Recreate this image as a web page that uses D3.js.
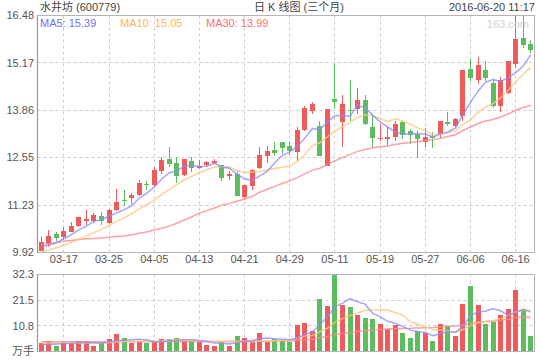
<!DOCTYPE html>
<html><head><meta charset="utf-8">
<script src="https://cdn.jsdelivr.net/npm/d3@7/dist/d3.min.js"></script>
<style>
body{margin:0;background:#fff}
svg{display:block}
text{font-family:"Liberation Sans",Arial,"Noto Sans CJK SC",sans-serif;font-size:11px}
</style>
</head><body>
<svg id="chart" width="540" height="360"></svg>
<script>
// ---------- data ----------
const dates = ["03-14","03-15","03-16","03-17","03-18","03-21","03-22","03-23","03-24","03-25",
"03-28","03-29","03-30","03-31","04-01","04-05","04-06","04-07","04-08","04-11",
"04-12","04-13","04-14","04-15","04-18","04-19","04-20","04-21","04-22","04-25",
"04-26","04-27","04-28","04-29","05-03","05-04","05-05","05-06","05-10","05-11",
"05-12","05-13","05-16","05-17","05-18","05-19","05-20","05-23","05-24","05-25",
"05-26","05-27","05-30","05-31","06-01","06-02","06-03","06-06","06-07","06-08",
"06-13","06-14","06-15","06-16","06-17","06-20"];
const open  = [9.97,10.15,10.44,10.34,10.50,10.66,10.78,10.80,10.93,10.73,
11.09,11.37,11.44,11.50,11.82,11.79,12.17,12.50,12.39,12.06,
12.45,12.26,12.34,12.39,12.33,12.03,12.08,11.47,11.75,12.26,
12.59,12.75,12.97,12.88,12.71,13.32,13.83,13.41,12.31,14.18,
13.53,13.87,13.90,14.15,13.38,13.08,13.06,13.13,13.52,13.27,
13.20,12.97,13.14,13.19,13.52,13.42,13.69,15.01,14.69,14.96,
14.60,13.97,14.34,15.14,15.86,15.70];
const high  = [10.34,10.55,10.50,10.62,10.77,10.90,11.11,11.02,11.05,11.13,
11.69,11.64,11.56,11.92,11.91,12.29,12.55,12.84,12.55,12.52,
12.55,12.47,12.45,12.52,12.33,12.18,12.19,11.80,12.24,12.84,
12.87,12.97,12.97,13.00,13.39,13.97,14.08,13.57,13.88,15.17,
14.29,14.69,14.46,14.29,13.74,13.48,13.39,13.56,13.56,13.35,
13.29,13.37,13.25,13.57,13.80,13.65,14.96,15.28,15.34,15.22,
14.71,14.78,15.23,16.46,16.46,15.81];
const low   = [9.96,10.06,10.24,10.26,10.50,10.62,10.69,10.74,10.69,10.71,
11.08,11.21,11.27,11.48,11.64,11.77,12.10,12.29,11.84,12.03,
12.15,12.24,12.31,12.36,11.89,11.94,11.48,11.36,11.66,12.24,
12.40,12.59,12.64,12.63,12.45,13.28,13.74,12.59,12.31,13.88,
12.84,13.57,13.76,13.46,12.82,13.00,12.88,13.00,13.05,12.91,
12.54,12.84,12.82,13.08,13.42,13.39,13.56,14.68,14.59,14.66,
13.91,13.80,14.32,15.03,15.58,15.43];
const close = [10.21,10.38,10.31,10.52,10.66,10.89,10.86,10.97,10.78,11.11,
11.33,11.34,11.50,11.83,11.78,12.19,12.47,12.37,12.04,12.50,
12.26,12.32,12.42,12.45,11.98,12.09,11.48,11.80,12.21,12.61,
12.72,12.68,12.80,12.72,13.32,13.91,14.02,12.59,13.88,14.08,
14.04,13.85,14.15,13.48,13.09,13.10,13.13,13.49,13.17,13.18,
13.05,13.11,13.08,13.56,13.49,13.61,14.96,14.75,15.12,14.74,
13.97,14.70,15.23,15.84,15.66,15.52];
const volume = [3.5,4.2,2.5,3.8,3.4,4.2,4.2,2.5,3.4,5.1,
7.2,5.5,3.4,4.6,3.4,4.2,5.1,5.1,5.5,4.6,
4.2,3.8,2.9,2.5,3.8,2.5,6.7,5.5,4.6,7.6,
3.8,5.1,4.6,3.8,11.0,11.8,8.8,21.9,19.0,32.3,
19.4,18.5,15.2,13.9,13.5,11.4,9.3,11.0,7.6,5.5,
8.4,7.6,4.2,11.4,10.5,6.3,19.8,27.4,19.4,11.4,
12.2,15.2,17.7,25.7,17.7,6.3];
// moving-average values for the first days (window not yet full)
const ma5Lead  = [10.07,10.12,10.19,10.30];
const ma10Lead = [9.95,9.99,10.05,10.12,10.20,10.29,10.38,10.47,10.56];
const ma30Lead = [10.15,10.17,10.20,10.23,10.25,10.28,10.30,10.31,10.32,10.34,
10.36,10.38,10.41,10.45,10.49,10.54,10.59,10.65,10.73,10.82,
10.91,11.01,11.08,11.15,11.23,11.28,11.34,11.40,11.47];
const vma5Lead  = [2.8,2.9,3.1,3.3];
const vma10Lead = [3.6,3.6,3.6,3.6,3.6,3.6,3.6,3.6,3.7];
const vma30Lead = [4.1,4.1,4.1,4.1,4.1,4.1,4.1,4.1,4.1,4.1,
4.1,4.1,4.1,4.1,4.1,4.1,4.2,4.2,4.2,4.2,
4.2,4.2,4.2,4.2,4.2,4.2,4.3,4.3,4.3];
const priceTicks = [9.92,11.23,12.55,13.86,15.17,16.48];
const volTicks = [10.8,21.5,32.3];
const xLabels = ["03-17","03-25","04-05","04-13","04-21","04-29","05-11","05-19","05-27","06-06","06-16"];
const stockName = "水井坊 (600779)";
const chartTitle = "日 K 线图 (三个月)";
const stamp = "2016-06-20 11:17";

// ---------- helpers ----------
function movingAvg(arr, n, lead){
  return arr.map((v,i)=> i < n-1 ? lead[i] : d3.mean(arr.slice(i-n+1, i+1)));
}
const ma5 = movingAvg(close,5,ma5Lead), ma10 = movingAvg(close,10,ma10Lead), ma30 = movingAvg(close,30,ma30Lead);
const vma5 = movingAvg(volume,5,vma5Lead), vma10 = movingAvg(volume,10,vma10Lead), vma30 = movingAvg(volume,30,vma30Lead);

const RED="#f05a5a", GREEN="#5cbd5c";
const C5="#8c8cff", C10="#ffc67a", C30="#ff8a8a";
const L=37.5, R=534.5, T=15.5, B=252.5, VT=274.5, VB=351.5;

const svg = d3.select("#chart");
const x = d3.scaleBand().domain(dates).range([L,R]).paddingInner(0).paddingOuter(0);
const cx = d => x(d) + x.bandwidth()/2;
const y = d3.scaleLinear().domain([9.92,16.48]).range([B,T]);
const yv = d3.scaleLinear().domain([0,32.3]).range([VB,VT]);
const px = v => Math.floor(v)+0.5;

// ---------- grid ----------
const grid = svg.append("g").attr("stroke","#cccccc").attr("stroke-dasharray","3,3").attr("stroke-width",1);
xLabels.forEach(d=>{
  const gx = px(cx(d));
  grid.append("line").attr("x1",gx).attr("x2",gx).attr("y1",T).attr("y2",B);
  grid.append("line").attr("x1",gx).attr("x2",gx).attr("y1",VT).attr("y2",VB);
});
priceTicks.slice(1,-1).forEach(t=>{
  const gy = px(y(t));
  grid.append("line").attr("x1",L).attr("x2",R).attr("y1",gy).attr("y2",gy);
});
volTicks.slice(0,-1).forEach(t=>{
  const gy = px(yv(t));
  grid.append("line").attr("x1",L).attr("x2",R).attr("y1",gy).attr("y2",gy);
});

// ---------- frames ----------
svg.append("rect").attr("x",L).attr("y",T).attr("width",R-L).attr("height",B-T).attr("fill","none").attr("stroke","#b4b4b4");
svg.append("rect").attr("x",L).attr("y",VT).attr("width",R-L).attr("height",VB-VT).attr("fill","none").attr("stroke","#b4b4b4");
svg.append("line").attr("x1",L).attr("x2",L).attr("y1",T).attr("y2",B).attr("stroke","#999").attr("stroke-width",1.2);
svg.append("line").attr("x1",L).attr("x2",L).attr("y1",VT).attr("y2",VB).attr("stroke","#999").attr("stroke-width",1.2);

// ---------- candles ----------
const idx = d3.range(dates.length);
const cg = svg.append("g");
idx.forEach(i=>{
  const col = close[i] >= open[i] ? RED : GREEN;
  const c = cx(dates[i]);
  const wx = Math.floor(c)+0.5;
  cg.append("line").attr("x1",wx).attr("x2",wx)
    .attr("y1",Math.round(y(high[i]))).attr("y2",Math.round(y(low[i]))).attr("stroke",col).attr("stroke-width",1);
  const top = Math.round(y(Math.max(open[i],close[i])));
  const bot = Math.round(y(Math.min(open[i],close[i])));
  cg.append("rect").attr("x",Math.floor(c)-2).attr("width",5)
    .attr("y",top).attr("height",Math.max(1,bot-top)).attr("fill",col);
});

// ---------- volume bars ----------
const vg = svg.append("g");
idx.forEach(i=>{
  const col = close[i] >= open[i] ? RED : GREEN;
  const c = cx(dates[i]);
  const top = Math.round(yv(volume[i]));
  vg.append("rect").attr("x",Math.floor(c)-2).attr("width",5)
    .attr("y",top).attr("height",Math.round(VB-0.5)-top).attr("fill",col);
});

// ---------- MA lines ----------
svg.append("clipPath").attr("id","clipP").append("rect").attr("x",L).attr("y",T).attr("width",R-L).attr("height",B-T);
svg.append("clipPath").attr("id","clipV").append("rect").attr("x",L).attr("y",VT).attr("width",R-L).attr("height",VB-VT);
const lineP = d3.line().x((v,i)=>cx(dates[i])).y(v=>y(v));
const lineV = d3.line().x((v,i)=>cx(dates[i])).y(v=>yv(v));
[[ma30,C30],[ma10,C10],[ma5,C5]].forEach(([s,c])=>{
  svg.append("path").attr("clip-path","url(#clipP)").attr("d",lineP(s)).attr("fill","none")
    .attr("stroke",c).attr("stroke-width",1.5).attr("stroke-opacity",0.8);
});
[[vma30,C30],[vma10,C10],[vma5,C5]].forEach(([s,c])=>{
  svg.append("path").attr("clip-path","url(#clipV)").attr("d",lineV(s)).attr("fill","none")
    .attr("stroke",c).attr("stroke-width",1.5).attr("stroke-opacity",0.8);
});

// ---------- axis labels ----------
const lab = svg.append("g").attr("fill","#555");
priceTicks.forEach(t=>{
  lab.append("text").attr("x",34).attr("y",y(t)).attr("dy","0.36em").attr("text-anchor","end").text(t.toFixed(2));
});
volTicks.forEach(t=>{
  lab.append("text").attr("x",34).attr("y",yv(t)).attr("dy","0.36em").attr("text-anchor","end").text(t.toFixed(1));
});
lab.append("text").attr("x",34).attr("y",VB-0.5).attr("dy","0.36em").attr("text-anchor","end").text("万手");
xLabels.forEach(d=>{
  lab.append("text").attr("x",cx(d)).attr("y",259).attr("dy","0.36em").attr("text-anchor","middle").text(d);
});

// ---------- header ----------
const hd = svg.append("g").attr("fill","#444");
hd.append("text").attr("x",40).attr("y",7).attr("dy","0.36em").text(stockName);
hd.append("text").attr("x",254).attr("y",7).attr("dy","0.36em").text(chartTitle);
hd.append("text").attr("x",535).attr("y",7).attr("dy","0.36em").attr("text-anchor","end").text(stamp);

svg.append("text").attr("x",529).attr("y",24).attr("dy","0.36em").attr("text-anchor","end")
  .attr("fill","#cfcfcf").text("163.com");

const last = dates.length-1;
svg.append("text").attr("x",40).attr("y",23).attr("dy","0.36em").attr("fill","#6f6fff").text("MA5: "+ma5[last].toFixed(2));
svg.append("text").attr("x",120).attr("y",23).attr("dy","0.36em").attr("fill","#ffb84d").text("MA10: "+ma10[last].toFixed(2));
svg.append("text").attr("x",206).attr("y",23).attr("dy","0.36em").attr("fill","#ff7070").text("MA30: "+ma30[last].toFixed(2));
</script>
</body></html>
